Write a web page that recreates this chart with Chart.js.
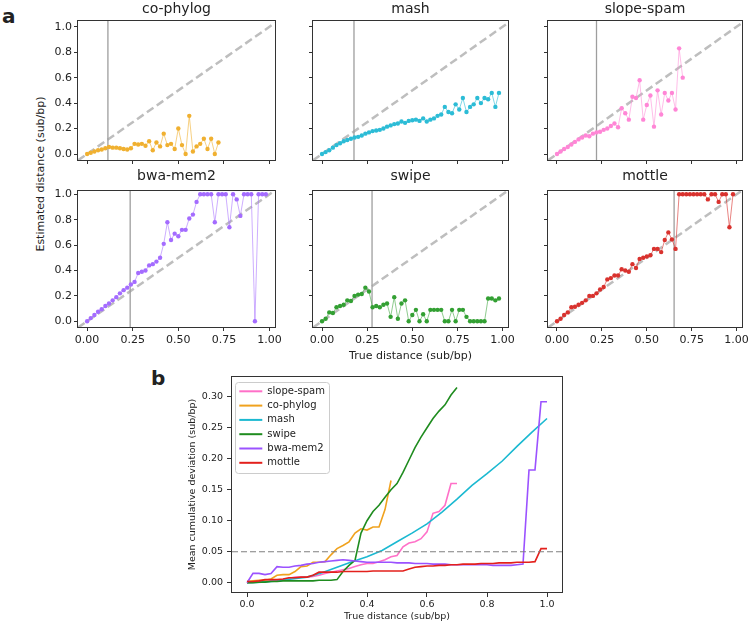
<!DOCTYPE html>
<html>
<head>
<meta charset="utf-8">
<script src="https://cdn.jsdelivr.net/npm/chart.js@4.4.1/dist/chart.umd.min.js"></script>
<style>
  body { margin: 0; background: #fff; overflow: hidden; }
  #page { position: relative; width: 750px; height: 622px; overflow: hidden; font-family: "DejaVu Sans", sans-serif; color: #222; }
  canvas { position: absolute; }
  .tag { position: absolute; font-weight: bold; font-size: 20px; line-height: 1; }
  #ylabA { position: absolute; left: 40px; top: 174px; font-size: 11px; white-space: nowrap; transform: translate(-50%, -50%) rotate(-90deg); }
</style>
</head>
<body>
<div id="page">
  <div class="tag" style="left:2px; top:6px;">a</div>
  <div class="tag" style="left:151px; top:368px;">b</div>
  <div id="ylabA">Estimated distance (sub/bp)</div>
  <canvas id="p0" width="247" height="170" style="left:40px; top:0px;"></canvas>
  <canvas id="p1" width="227" height="170" style="left:293px; top:0px;"></canvas>
  <canvas id="p2" width="226" height="170" style="left:528px; top:0px;"></canvas>
  <canvas id="p3" width="247" height="196" style="left:40px; top:167px;"></canvas>
  <canvas id="p4" width="227" height="196" style="left:293px; top:167px;"></canvas>
  <canvas id="p5" width="226" height="196" style="left:528px; top:167px;"></canvas>
  <canvas id="dev" width="381" height="255" style="left:187px; top:367px;"></canvas>
</div>
<script>
const FONT = 'DejaVu Sans';
const INK = '#222';

// panel a: true distance of each simulated pair
const trueDist = [0, 0.02, 0.04, 0.06, 0.08, 0.1, 0.12, 0.14, 0.16, 0.18, 0.2, 0.22, 0.24, 0.26, 0.28, 0.3, 0.32, 0.34, 0.36, 0.38,
  0.4, 0.42, 0.44, 0.46, 0.48, 0.5, 0.52, 0.54, 0.56, 0.58, 0.6, 0.62, 0.64, 0.66, 0.68, 0.7, 0.72, 0.74, 0.76, 0.78,
  0.8, 0.82, 0.84, 0.86, 0.88, 0.9, 0.92, 0.94, 0.96, 0.98];

const methods = ['co-phylog', 'mash', 'slope-spam', 'bwa-mem2', 'swipe', 'mottle'];
const cutoffs = [0.114, 0.177, 0.22, 0.236, 0.277, 0.652];

const estCoPhylog = [0.0, 0.01, 0.02, 0.03, 0.035, 0.045, 0.055, 0.05, 0.05, 0.045, 0.04, 0.035, 0.045, 0.08, 0.075, 0.08, 0.065, 0.1, 0.03, 0.09,
  0.06, 0.16, 0.07, 0.08, 0.04, 0.2, 0.07, 0.0, 0.3, 0.02, 0.06, 0.08, 0.12, 0.04, 0.12, 0.0, 0.09];
const estMash = [0.0, 0.015, 0.03, 0.05, 0.07, 0.085, 0.1, 0.11, 0.12, 0.13, 0.135, 0.145, 0.16, 0.17, 0.18, 0.185, 0.19, 0.2, 0.215, 0.225,
  0.235, 0.24, 0.255, 0.245, 0.26, 0.265, 0.27, 0.26, 0.28, 0.255, 0.27, 0.28, 0.3, 0.31, 0.37, 0.33, 0.32, 0.39, 0.35, 0.44,
  0.33, 0.37, 0.39, 0.44, 0.4, 0.44, 0.43, 0.48, 0.37, 0.48];
const estSlopeSpam = [0.0, 0.02, 0.04, 0.055, 0.075, 0.095, 0.115, 0.13, 0.145, 0.14, 0.16, 0.17, 0.175, 0.19, 0.2, 0.22, 0.24, 0.21, 0.36, 0.32,
  0.27, 0.45, 0.44, 0.58, 0.27, 0.385, 0.46, 0.215, 0.5, 0.31, 0.48, 0.42, 0.48, 0.35, 0.83, 0.6];
const estBwaMem2 = [0.0, 0.025, 0.05, 0.075, 0.095, 0.12, 0.14, 0.165, 0.19, 0.22, 0.245, 0.265, 0.29, 0.31, 0.38, 0.39, 0.4, 0.44, 0.45, 0.47,
  0.5, 0.61, 0.78, 0.64, 0.69, 0.67, 0.72, 0.72, 0.81, 0.84, 0.94, 1.0, 1.0, 1.0, 1.0, 0.78, 1.0, 1.0, 1.0, 0.74,
  1.0, 0.96, 0.83, 1.0, 1.0, 1.0, 0.0, 1.0, 1.0, 1.0];
const estSwipe = [0.0, 0.02, 0.07, 0.065, 0.11, 0.12, 0.13, 0.165, 0.16, 0.2, 0.21, 0.215, 0.265, 0.235, 0.11, 0.12, 0.11, 0.13, 0.14, 0.035,
  0.19, 0.02, 0.14, 0.165, 0.0, 0.05, 0.09, 0.0, 0.055, 0.0, 0.09, 0.09, 0.09, 0.09, 0.0, 0.0, 0.09, 0.0, 0.09, 0.09,
  0.035, 0.0, 0.0, 0.0, 0.0, 0.0, 0.18, 0.18, 0.165, 0.18];
const estMottle = [0.0, 0.02, 0.05, 0.07, 0.11, 0.115, 0.13, 0.145, 0.165, 0.2, 0.2, 0.22, 0.25, 0.27, 0.33, 0.34, 0.36, 0.36, 0.41, 0.4,
  0.39, 0.45, 0.42, 0.49, 0.5, 0.51, 0.52, 0.57, 0.57, 0.545, 0.64, 0.7, 0.645, 0.57, 1.0, 1.0, 1.0, 1.0, 1.0, 1.0,
  1.0, 1.0, 0.96, 1.0, 1.0, 0.94, 1.0, 1.0, 0.74, 1.0];

const panelXTicks = [0, 0.25, 0.5, 0.75, 1];
const panelYTicks = [0, 0.2, 0.4, 0.6, 0.8, 1];

// panel b: mean cumulative deviation
const devX = [0, 0.02, 0.04, 0.06, 0.08, 0.1, 0.12, 0.14, 0.16, 0.18, 0.2, 0.22, 0.24, 0.26, 0.28, 0.3, 0.32, 0.34, 0.36, 0.38,
  0.4, 0.42, 0.44, 0.46, 0.48, 0.5, 0.52, 0.54, 0.56, 0.58, 0.6, 0.62, 0.64, 0.66, 0.68, 0.7, 0.72, 0.74, 0.76, 0.78,
  0.8, 0.82, 0.84, 0.86, 0.88, 0.9, 0.92, 0.94, 0.96, 0.98, 1.0];
const devXMash = [0, 0.05, 0.1, 0.15, 0.2, 0.25, 0.3, 0.35, 0.4, 0.45, 0.5, 0.55, 0.6, 0.65, 0.7, 0.75, 0.8, 0.85, 0.9, 0.95, 1.0];

const devSlopeSpam = [0.0, 0.001, 0.002, 0.002, 0.003, 0.004, 0.005, 0.007, 0.009, 0.009, 0.009, 0.01, 0.012, 0.015, 0.017, 0.019, 0.021, 0.023, 0.026, 0.029,
  0.031, 0.031, 0.034, 0.037, 0.042, 0.044, 0.058, 0.064, 0.066, 0.071, 0.082, 0.112, 0.115, 0.125, 0.16, 0.16];
const devCoPhylog = [0.002, 0.003, 0.004, 0.004, 0.006, 0.012, 0.013, 0.013, 0.018, 0.026, 0.027, 0.033, 0.033, 0.034, 0.045, 0.055, 0.06, 0.066, 0.08, 0.087,
  0.085, 0.09, 0.09, 0.118, 0.165];
const devMash = [0.0, 0.001, 0.003, 0.006, 0.009, 0.016, 0.025, 0.034, 0.042, 0.052, 0.066, 0.08, 0.095, 0.114, 0.135, 0.157, 0.176, 0.196, 0.22, 0.243, 0.265];
const devSwipe = [0.0, 0.0, 0.001, 0.001, 0.002, 0.002, 0.003, 0.003, 0.003, 0.003, 0.003, 0.003, 0.004, 0.004, 0.004, 0.005, 0.018, 0.028, 0.036, 0.08,
  0.1, 0.115, 0.125, 0.138, 0.15, 0.16, 0.178, 0.198, 0.218, 0.235, 0.25, 0.265, 0.277, 0.287, 0.303, 0.315];
const devBwaMem2 = [0.0, 0.015, 0.015, 0.013, 0.015, 0.026, 0.025, 0.025, 0.027, 0.028, 0.03, 0.031, 0.033, 0.034, 0.035, 0.036, 0.037, 0.036, 0.035, 0.034,
  0.033, 0.033, 0.033, 0.033, 0.033, 0.032, 0.032, 0.032, 0.031, 0.031, 0.031, 0.03, 0.03, 0.03, 0.029, 0.029, 0.029, 0.029, 0.029, 0.029,
  0.029, 0.028, 0.028, 0.028, 0.028, 0.029, 0.03, 0.182, 0.182, 0.292, 0.292];
const devMottle = [0.002, 0.002, 0.003, 0.005, 0.005, 0.005, 0.006, 0.008, 0.008, 0.009, 0.009, 0.012, 0.017, 0.017, 0.017, 0.017, 0.018, 0.018, 0.018, 0.018,
  0.018, 0.019, 0.019, 0.019, 0.019, 0.019, 0.019, 0.022, 0.025, 0.026, 0.027, 0.027, 0.028, 0.028, 0.029, 0.029, 0.03, 0.03, 0.03, 0.031,
  0.031, 0.031, 0.032, 0.032, 0.032, 0.033, 0.033, 0.033, 0.034, 0.055, 0.055];
const devCut = 0.05;
const devXTicks = [0, 0.2, 0.4, 0.6, 0.8, 1];
const devYTicks = [0, 0.05, 0.1, 0.15, 0.2, 0.25, 0.3];

function toPoints(xs, ys) {
  return ys.map((y, i) => ({ x: xs[i], y: y }));
}

// matplotlib style box round the plot area
const frame = {
  id: 'frame',
  afterDatasetsDraw(chart) {
    const a = chart.chartArea, c = chart.ctx;
    c.save();
    c.strokeStyle = '#333';
    c.lineWidth = 1;
    c.strokeRect(a.left - 0.5, a.top - 0.5, a.right - a.left + 1, a.bottom - a.top + 1);
    c.restore();
  }
};

const X_MIN = -0.05, X_MAX = 1.03;

function makePanel(idx, est, dot, line, row) {
  const first = idx % 3 === 0;
  const yMin = row === 0 ? -0.047 : -0.045;
  const yMax = row === 0 ? 1.045 : 1.026;
  new Chart(document.getElementById('p' + idx), {
    type: 'line',
    data: {
      datasets: [{
        data: toPoints(trueDist, est),
        borderColor: line,
        borderWidth: 1,
        pointRadius: 2.2,
        pointBackgroundColor: dot,
        pointBorderWidth: 0,
        order: 0
      }, { // threshold
        data: [{ x: cutoffs[idx], y: yMin }, { x: cutoffs[idx], y: yMax }],
        borderColor: '#9e9e9e',
        borderWidth: 1.3,
        pointRadius: 0,
        order: 1
      }, { // y = x
        data: [{ x: X_MIN, y: X_MIN }, { x: X_MAX, y: X_MAX }],
        borderColor: '#bebebe',
        borderWidth: 2.5,
        borderDash: [8, 4],
        pointRadius: 0,
        order: 2
      }]
    },
    options: {
      responsive: false,
      animation: false,
      layout: { padding: { right: 12 } },
      plugins: {
        legend: { display: false },
        tooltip: { enabled: false },
        title: {
          display: true,
          text: methods[idx],
          fullSize: false,
          color: INK,
          font: { family: FONT, size: 14, weight: 'normal', lineHeight: '18px' },
          padding: { top: 0, bottom: row === 0 ? 3 : 6 }
        }
      },
      scales: {
        x: {
          type: 'linear',
          min: X_MIN,
          max: X_MAX,
          afterBuildTicks: s => { s.ticks = panelXTicks.map(v => ({ value: v })); },
          afterFit: s => { s.height = row === 0 ? 10 : 36; },
          ticks: {
            callback: v => row === 1 ? v.toFixed(2) : '',
            color: INK, font: { family: FONT, size: 11 }, padding: 3, maxRotation: 0, autoSkip: false
          },
          grid: { drawOnChartArea: false, tickLength: 4, color: '#333' },
          border: { display: false },
          title: {
            display: idx === 4,
            text: 'True distance (sub/bp)',
            color: INK,
            font: { family: FONT, size: 11 },
            padding: 0
          }
        },
        y: {
          min: yMin,
          max: yMax,
          afterBuildTicks: s => { s.ticks = panelYTicks.map(v => ({ value: v })); },
          afterFit: s => { s.width = first ? 38 : 20; },
          ticks: {
            callback: v => first ? v.toFixed(1) : '',
            color: INK, font: { family: FONT, size: 11 }, padding: 2
          },
          grid: { drawOnChartArea: false, tickLength: 4, color: '#333' },
          border: { display: false }
        }
      }
    },
    plugins: [frame]
  });
}

makePanel(0, estCoPhylog, '#f0b030', 'rgba(240,176,48,0.6)', 0);
makePanel(1, estMash, '#2cbcd6', 'rgba(44,188,214,0.6)', 0);
makePanel(2, estSlopeSpam, '#ff86d6', 'rgba(255,134,214,0.55)', 0);
makePanel(3, estBwaMem2, '#a46cff', 'rgba(164,108,255,0.55)', 1);
makePanel(4, estSwipe, '#33a033', 'rgba(51,160,51,0.55)', 1);
makePanel(5, estMottle, '#d9322e', 'rgba(217,50,46,0.6)', 1);

// legend sits in the top-left corner of the plot, in a light box
const legendBox = {
  id: 'legendBox',
  afterUpdate(chart) {
    const lg = chart.legend;
    if (!lg) return;
    const dx = 3, dy = chart.chartArea.top + 5 - lg.top;
    lg.left += dx; lg.right += dx;
    lg.top += dy; lg.bottom += dy;
    lg.legendHitBoxes.forEach(h => { h.left += dx; h.top += dy; });
  },
  beforeDraw(chart) {
    const hb = chart.legend && chart.legend.legendHitBoxes;
    if (!hb || !hb.length) return;
    const x0 = Math.min(...hb.map(h => h.left)) - 4;
    const y0 = Math.min(...hb.map(h => h.top)) - 4;
    const x1 = Math.max(...hb.map(h => h.left + h.width)) + 4;
    const y1 = Math.max(...hb.map(h => h.top + h.height)) + 5;
    const c = chart.ctx;
    c.save();
    c.beginPath();
    c.roundRect(Math.round(x0) + 0.5, Math.round(y0) + 0.5, Math.round(x1 - x0), Math.round(y1 - y0), 3);
    c.fillStyle = 'rgba(255,255,255,0.85)';
    c.fill();
    c.strokeStyle = '#cccccc';
    c.lineWidth = 1;
    c.stroke();
    c.restore();
  }
};

const DEV_X_MIN = -0.05, DEV_X_MAX = 1.05;
const devFont = { family: FONT, size: 9.5 };

new Chart(document.getElementById('dev'), {
  type: 'line',
  data: {
    datasets: [
      { label: 'slope-spam', data: toPoints(devX, devSlopeSpam), borderColor: '#ff70c8', order: 6 },
      { label: 'co-phylog', data: toPoints(devX, devCoPhylog), borderColor: '#f0a21e', order: 5 },
      { label: 'mash', data: toPoints(devXMash, devMash), borderColor: '#1bb9d1', order: 4 },
      { label: 'swipe', data: toPoints(devX, devSwipe), borderColor: '#1f8c1f', order: 3 },
      { label: 'bwa-mem2', data: toPoints(devX, devBwaMem2), borderColor: '#9b52ff', order: 2 },
      { label: 'mottle', data: toPoints(devX, devMottle), borderColor: '#e3201c', order: 1 },
      { label: 'cut', data: [{ x: DEV_X_MIN, y: devCut }, { x: DEV_X_MAX, y: devCut }], borderColor: '#808080', borderWidth: 1.2, borderDash: [6, 3], order: 0 }
    ]
  },
  options: {
    responsive: false,
    animation: false,
    layout: { padding: { top: 10, right: 6 } },
    elements: {
      line: { borderWidth: 1.6, tension: 0 },
      point: { radius: 0, borderWidth: 2 }
    },
    plugins: {
      tooltip: { enabled: false },
      legend: {
        position: 'chartArea',
        align: 'start',
        labels: {
          usePointStyle: true,
          pointStyle: 'line',
          pointStyleWidth: 23,
          padding: 4.3,
          color: INK,
          font: { family: FONT, size: 10 },
          filter: item => item.text !== 'cut',
          sort: (a, b) => a.datasetIndex - b.datasetIndex
        }
      }
    },
    scales: {
      x: {
        type: 'linear',
        min: DEV_X_MIN,
        max: DEV_X_MAX,
        afterBuildTicks: s => { s.ticks = devXTicks.map(v => ({ value: v })); },
        afterFit: s => { s.height = 30; },
        ticks: { callback: v => v.toFixed(1), color: INK, font: devFont, padding: 2, maxRotation: 0, autoSkip: false },
        grid: { drawOnChartArea: false, tickLength: 5, color: '#333' },
        border: { display: false },
        title: { display: true, text: 'True distance (sub/bp)', color: INK, font: devFont, padding: 0 }
      },
      y: {
        min: -0.015,
        max: 0.332,
        afterBuildTicks: s => { s.ticks = devYTicks.map(v => ({ value: v })); },
        afterFit: s => { s.width = 45; },
        ticks: { callback: v => v.toFixed(2), color: INK, font: devFont, padding: 4 },
        grid: { drawOnChartArea: false, tickLength: 5, color: '#333' },
        border: { display: false },
        title: { display: true, text: 'Mean cumulative deviation (sub/bp)', color: INK, font: devFont, padding: 0 }
      }
    }
  },
  plugins: [legendBox, frame]
});
</script>
</body>
</html>
